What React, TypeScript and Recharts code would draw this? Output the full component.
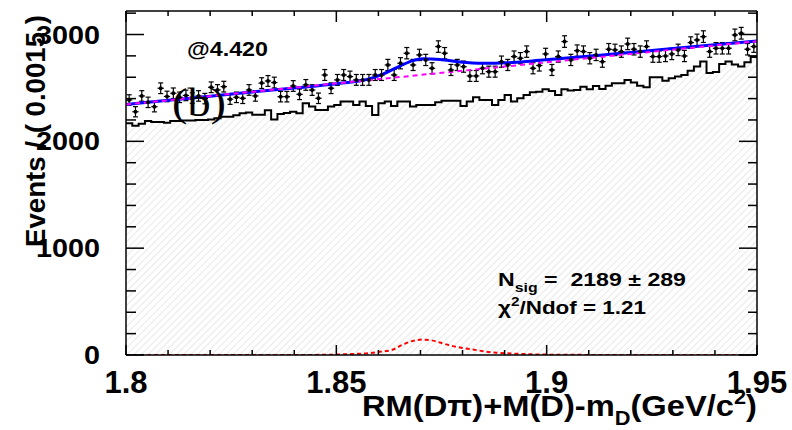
import React from 'react';
import { ComposedChart, XAxis, YAxis, Scatter, Line, Area, ErrorBar } from 'recharts';

// Binning of the recoil-mass histogram
const binStart = 1.8;
const binWidth = 0.0015;

// Observed events per bin (data points)
const dataCounts = [
  2387, 2277, 2425, 2365, 2324, 2497, 2420, 2450, 2412, 2430,
  2405, 2425, 2400, 2506, 2481, 2512, 2395, 2412, 2403, 2481,
  2425, 2545, 2565, 2550, 2418, 2418, 2518, 2440, 2528, 2480,
  2403, 2621, 2497, 2575, 2621, 2606, 2575, 2575, 2575, 2621,
  2621, 2715, 2621, 2731, 2825, 2715, 2809, 2762, 2684, 2887,
  2825, 2668, 2715, 2699, 2612, 2612, 2684, 2652, 2652, 2746,
  2715, 2793, 2778, 2840, 2684, 2710, 2818, 2668, 2793, 2934,
  2762, 2849, 2840, 2778, 2809, 2746, 2862, 2856, 2840, 2912,
  2862, 2840, 2887, 2793, 2793, 2799, 2818, 2856, 2799, 2924,
  2949, 2980, 2840, 2871, 2871, 2871, 2996, 3012, 2862, 2887,
];

// Background histogram (hatched)
const bkgHistCounts = [
  2170, 2145, 2165, 2190, 2180, 2180, 2175, 2190, 2190, 2195,
  2195, 2200, 2200, 2205, 2215, 2230, 2230, 2245, 2262, 2270,
  2250, 2250, 2290, 2205, 2255, 2265, 2278, 2262, 2356, 2325,
  2293, 2293, 2325, 2340, 2372, 2372, 2340, 2372, 2331, 2247,
  2356, 2372, 2331, 2372, 2372, 2325, 2340, 2340, 2340, 2365,
  2381, 2381, 2381, 2331, 2372, 2412, 2387, 2387, 2340, 2387,
  2434, 2372, 2403, 2434, 2460, 2465, 2487, 2470, 2434, 2487,
  2475, 2481, 2512, 2487, 2519, 2490, 2520, 2543, 2543, 2575,
  2550, 2520, 2506, 2600, 2600, 2568, 2590, 2606, 2620, 2660,
  2700, 2747, 2640, 2650, 2725, 2747, 2720, 2700, 2740, 2790,
];

// Total fit curve
const fitX = [1.8, 1.82, 1.84, 1.85, 1.8571, 1.8611, 1.8651, 1.8682, 1.8706, 1.8746, 1.8794, 1.8849, 1.8905, 1.8984, 1.9127, 1.93, 1.95];
const fitY = [2345, 2423, 2500, 2540, 2578, 2630, 2705, 2755, 2772, 2766, 2742, 2730, 2735, 2758, 2805, 2870, 2940];

// Background component of the fit
const bkgX = [1.8, 1.95];
const bkgY = [2345, 2937];

// Signal component of the fit
const sigX = [1.8, 1.84, 1.85, 1.8533, 1.8575, 1.86, 1.8633, 1.866, 1.868, 1.8703, 1.8725, 1.8746, 1.8768, 1.88, 1.8836, 1.8857, 1.888, 1.892, 1.897, 1.905, 1.92, 1.95];
const sigY = [0, 0, 4, 9, 17, 28, 49, 100, 130, 144, 138, 117, 92, 66, 44, 30, 22, 13, 6, 2, 0, 0];

// Axis ticks
const xTicks = [1.8, 1.81, 1.82, 1.83, 1.84, 1.85, 1.86, 1.87, 1.88, 1.89, 1.9, 1.91, 1.92, 1.93, 1.94, 1.95];
const xMajor = [1.8, 1.85, 1.9, 1.95];
const xMajorLabels = ['1.8', '1.85', '1.9', '1.95'];
const yTicks = [0, 200, 400, 600, 800, 1000, 1200, 1400, 1600, 1800, 2000, 2200, 2400, 2600, 2800, 3000, 3200];
const yMajor = [0, 1000, 2000, 3000];
const yMajorLabels = ['0', '1000', '2000', '3000'];

const xDomain: [number, number] = [1.8, 1.95];
const yDomain: [number, number] = [0, 3220];

const points = dataCounts.map((n, i) => ({
  x: binStart + binWidth * (i + 0.5),
  y: n,
  ey: Math.sqrt(n),
  ex: binWidth / 2,
}));

const histRows = [
  { x: xDomain[0], h: bkgHistCounts[0] },
  ...bkgHistCounts.map((h, i) => ({ x: binStart + binWidth * (i + 0.5), h })),
  { x: xDomain[1], h: bkgHistCounts[bkgHistCounts.length - 1] },
];

const fitRows = fitX.map((x, i) => ({ x, v: fitY[i] }));
const bkgRows = bkgX.map((x, i) => ({ x, v: bkgY[i] }));
const sigRows = sigX.map((x, i) => ({ x, v: sigY[i] }));

const SANS = "'Liberation Sans', Arial, Helvetica, sans-serif";
const SERIF = "'Liberation Serif', 'Times New Roman', serif";

const findIdx = (v: number, list: number[]) => list.findIndex((m) => Math.abs(m - v) < 1e-6);

function BottomTick(props: any) {
  const { x, y, payload } = props;
  const k = findIdx(payload.value, xMajor);
  const major = k >= 0;
  return (
    <g>
      <line x1={x} y1={y} x2={x} y2={y - (major ? 10 : 5)} stroke="#000" strokeWidth={1.5} />
      {major && (
        <text x={x} y={y + 38} textAnchor="middle" fontFamily={SANS} fontWeight="bold" fontSize={31} fill="#000">
          {xMajorLabels[k]}
        </text>
      )}
    </g>
  );
}

function TopTick(props: any) {
  const { x, y, payload } = props;
  const major = findIdx(payload.value, xMajor) >= 0;
  return <line x1={x} y1={y} x2={x} y2={y + (major ? 11 : 5)} stroke="#000" strokeWidth={1.5} />;
}

function LeftTick(props: any) {
  const { x, y, payload } = props;
  const k = findIdx(payload.value, yMajor);
  const major = k >= 0;
  const label = major ? yMajorLabels[k] : '';
  return (
    <g>
      <line x1={x} y1={y} x2={x + (major ? 18 : 10)} y2={y} stroke="#000" strokeWidth={1.5} />
      {major && (
        <text
          x={x - 26}
          y={y + 9}
          textAnchor="end"
          fontFamily={SANS}
          fontWeight="bold"
          fontSize={25}
          fill="#000"
          textLength={label.length * 16}
          lengthAdjust="spacingAndGlyphs"
        >
          {label}
        </text>
      )}
    </g>
  );
}

function RightTick(props: any) {
  const { x, y, payload } = props;
  const major = findIdx(payload.value, yMajor) >= 0;
  return <line x1={x} y1={y} x2={x - (major ? 18 : 9)} y2={y} stroke="#000" strokeWidth={1.5} />;
}

const DataMarker = (props: any) => {
  const { cx, cy } = props;
  return <circle cx={cx} cy={cy} r={2} fill="#000" />;
};

const frame = { stroke: '#000', strokeWidth: 1.5 };

export default function App() {
  return (
    <div style={{ position: 'absolute', left: 0, top: 0, width: 792, height: 430, background: '#fff' }}>
      <ComposedChart width={792} height={430} margin={{ top: 1, right: 25, bottom: 35, left: 66 }}>
        <XAxis
          xAxisId="main"
          dataKey="x"
          type="number"
          domain={xDomain}
          allowDataOverflow
          ticks={xTicks}
          interval={0}
          height={40}
          tickSize={0}
          tickMargin={0}
          tickLine={false}
          axisLine={frame}
          tick={BottomTick}
        />
        <XAxis
          xAxisId="top"
          orientation="top"
          dataKey="x"
          type="number"
          domain={xDomain}
          allowDataOverflow
          ticks={xTicks}
          interval={0}
          height={10}
          tickSize={0}
          tickMargin={0}
          tickLine={false}
          axisLine={frame}
          tick={TopTick}
        />
        <YAxis
          yAxisId="main"
          type="number"
          domain={yDomain}
          allowDataOverflow
          ticks={yTicks}
          interval={0}
          width={60}
          tickSize={0}
          tickMargin={0}
          tickLine={false}
          axisLine={frame}
          tick={LeftTick}
        />
        <YAxis
          yAxisId="right"
          orientation="right"
          type="number"
          domain={yDomain}
          allowDataOverflow
          ticks={yTicks}
          interval={0}
          width={10}
          tickSize={0}
          tickMargin={0}
          tickLine={false}
          axisLine={frame}
          tick={RightTick}
        />

        <Area
          xAxisId="main"
          yAxisId="main"
          data={histRows}
          dataKey="h"
          type="step"
          stroke="#000"
          strokeWidth={2}
          fill="url(#hatch)"
          fillOpacity={1}
          dot={false}
          activeDot={false}
          isAnimationActive={false}
        />

        <Scatter
          xAxisId="main"
          yAxisId="main"
          data={points}
          dataKey="y"
          shape={DataMarker}
          isAnimationActive={false}
        >
          <ErrorBar dataKey="ey" direction="y" width={2.5} stroke="#000" strokeWidth={1.2} />
          <ErrorBar dataKey="ex" direction="x" width={0} stroke="#000" strokeWidth={1.2} />
        </Scatter>

        <Line
          xAxisId="main"
          yAxisId="main"
          data={sigRows}
          dataKey="v"
          type="monotone"
          stroke="#ff0000"
          strokeWidth={2}
          strokeDasharray="4 3"
          dot={false}
          activeDot={false}
          isAnimationActive={false}
        />
        <Line
          xAxisId="main"
          yAxisId="main"
          data={fitRows}
          dataKey="v"
          type="monotone"
          stroke="#0000ff"
          strokeWidth={3}
          dot={false}
          activeDot={false}
          isAnimationActive={false}
        />
        <Line
          xAxisId="main"
          yAxisId="main"
          data={bkgRows}
          dataKey="v"
          type="linear"
          stroke="#ff00ff"
          strokeWidth={2}
          strokeDasharray="5 4"
          dot={false}
          activeDot={false}
          isAnimationActive={false}
        />
      </ComposedChart>

      <svg
        width={792}
        height={430}
        style={{ position: 'absolute', left: 0, top: 0, pointerEvents: 'none' }}
      >
        <defs>
          <pattern id="hatch" patternUnits="userSpaceOnUse" width={5} height={5} patternTransform="rotate(45)">
            <line x1={0} y1={0} x2={0} y2={5} stroke="#d2d2d2" strokeWidth={1} />
          </pattern>
        </defs>

        <text x={187} y={56} fontFamily={SANS} fontWeight="bold" fontSize={20} fill="#000" textLength={81} lengthAdjust="spacingAndGlyphs">
          @4.420
        </text>

        <text x={172} y={116} fontFamily={SERIF} fontSize={40} fill="#000" textLength={54} lengthAdjust="spacingAndGlyphs">
          (b)
        </text>

        <text
          x={498}
          y={286}
          fontFamily={SANS}
          fontWeight="bold"
          fontSize={19}
          fill="#000"
          textLength={188}
          lengthAdjust="spacingAndGlyphs"
          style={{ whiteSpace: 'pre' }}
        >
          N
          <tspan fontSize={13} dy={6}>sig</tspan>
          <tspan dy={-6}>{' =  2189 \u00b1 289'}</tspan>
        </text>

        <text
          x={498}
          y={314}
          fontFamily={SANS}
          fontWeight="bold"
          fontSize={19}
          fill="#000"
          textLength={148}
          lengthAdjust="spacingAndGlyphs"
          style={{ whiteSpace: 'pre' }}
        >
          {'\u03c7'}
          <tspan fontSize={13} dy={-8}>2</tspan>
          <tspan dy={8}>/Ndof = 1.21</tspan>
        </text>

        <text
          transform="translate(45,131) rotate(-90)"
          x={0}
          y={0}
          textAnchor="middle"
          fontFamily={SANS}
          fontWeight="bold"
          fontSize={27}
          fill="#000"
          textLength={232}
          lengthAdjust="spacingAndGlyphs"
          style={{ whiteSpace: 'pre' }}
        >
          Events / ( 0.0015 )
        </text>

        <text
          x={362}
          y={416}
          fontFamily={SANS}
          fontWeight="bold"
          fontSize={30}
          fill="#000"
          textLength={395}
          lengthAdjust="spacingAndGlyphs"
        >
          RM(D{'\u03c0'})+M(D)-m
          <tspan fontSize={20} dy={9}>D</tspan>
          <tspan dy={-9}>(GeV/c</tspan>
          <tspan fontSize={20} dy={-12}>2</tspan>
          <tspan dy={12}>)</tspan>
        </text>
      </svg>
    </div>
  );
}
